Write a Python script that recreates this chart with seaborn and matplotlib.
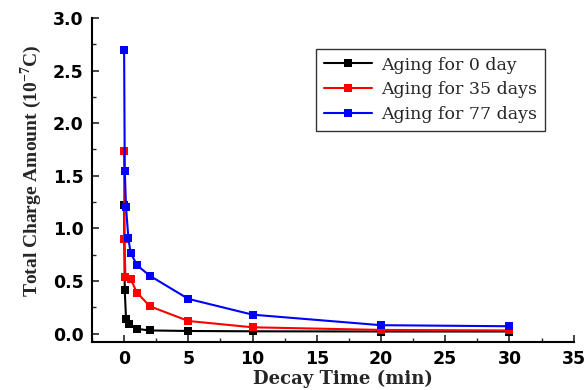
import matplotlib
matplotlib.use("Agg")
import matplotlib.pyplot as plt
import seaborn as sns
import pandas as pd
from matplotlib.ticker import MultipleLocator, FormatStrFormatter

# Data
t_0day = [0, 0.05, 0.15, 0.4, 1, 2, 5, 10, 20, 30]
q_0day = [1.22, 0.41, 0.14, 0.09, 0.045, 0.03, 0.025, 0.022, 0.02, 0.02]

t_35day = [0, 0.02, 0.1, 0.5, 1, 2, 5, 10, 20, 30]
q_35day = [1.74, 0.90, 0.54, 0.52, 0.39, 0.26, 0.12, 0.06, 0.035, 0.03]

t_77day = [0, 0.05, 0.15, 0.33, 0.5, 1, 2, 5, 10, 20, 30]
q_77day = [2.70, 1.55, 1.20, 0.91, 0.77, 0.65, 0.55, 0.33, 0.18, 0.08, 0.07]

labels = ["Aging for 0 day", "Aging for 35 days", "Aging for 77 days"]
colors = ["black", "red", "blue"]

frames = []
for lab, t, q in zip(labels, [t_0day, t_35day, t_77day], [q_0day, q_35day, q_77day]):
    frames.append(pd.DataFrame({"time": t, "charge": q, "series": lab}))
df = pd.concat(frames, ignore_index=True)

sns.set_style("white")
plt.rcParams["mathtext.fontset"] = "custom"
plt.rcParams["mathtext.rm"] = "Liberation Serif"
plt.rcParams["mathtext.bf"] = "Liberation Serif:bold"

fig = plt.figure(figsize=(5.86, 3.90), dpi=100)
ax = fig.add_axes([0.157, 0.123, 0.822, 0.831])

for lab, c in zip(labels, colors):
    sub = df[df["series"] == lab]
    sns.lineplot(data=sub, x="time", y="charge", ax=ax, color=c, marker="s",
                 markersize=6.3, markeredgewidth=0, linewidth=1.5, sort=False,
                 estimator=None, label=lab)

ax.set_xlim(-2.5, 35)
ax.set_ylim(-0.08, 3.0)
ax.xaxis.set_major_locator(MultipleLocator(5))
ax.xaxis.set_minor_locator(MultipleLocator(2.5))
ax.yaxis.set_major_locator(MultipleLocator(0.5))
ax.yaxis.set_minor_locator(MultipleLocator(0.25))
ax.yaxis.set_major_formatter(FormatStrFormatter("%.1f"))
ax.tick_params(which="major", direction="in", length=5, width=1.2, bottom=True, left=True)
ax.tick_params(axis="x", which="major", pad=6)
ax.tick_params(axis="y", which="major", pad=6)
ax.tick_params(which="minor", direction="in", length=3, width=1.0, bottom=True, left=True)

for s in ["top", "right"]:
    ax.spines[s].set_visible(False)
for s in ["left", "bottom"]:
    ax.spines[s].set_color("black")
    ax.spines[s].set_linewidth(1.5)

for lbl in ax.get_xticklabels() + ax.get_yticklabels():
    lbl.set_fontfamily("DejaVu Sans")
    lbl.set_fontweight("bold")
    lbl.set_fontsize(12.5)
    lbl.set_color("black")

ax.set_xlabel("Decay Time (min)", fontfamily="DejaVu Serif", fontweight="bold",
              fontsize=13, labelpad=1)
ax.xaxis.set_label_coords(0.52, -0.085, transform=ax.transAxes)
ax.xaxis.label.set_va("top")
ax.set_ylabel(r"Total Charge Amount (10$^{\mathbf{-7}}$C)", fontfamily="Liberation Serif",
              fontweight="bold", fontsize=14, labelpad=6)
ax.yaxis.set_label_coords(-0.1, 0.528, transform=ax.transAxes)

leg = ax.legend(loc="upper right", bbox_to_anchor=(0.94, 0.905), frameon=True,
                fancybox=False, edgecolor="black", handlelength=2.8,
                prop={"family": "DejaVu Serif", "size": 12.5},
                borderpad=0.45, labelspacing=0.45, handletextpad=0.5,
                borderaxespad=0)
leg.get_frame().set_linewidth(1.0)

fig.savefig("out.png", dpi=100)
